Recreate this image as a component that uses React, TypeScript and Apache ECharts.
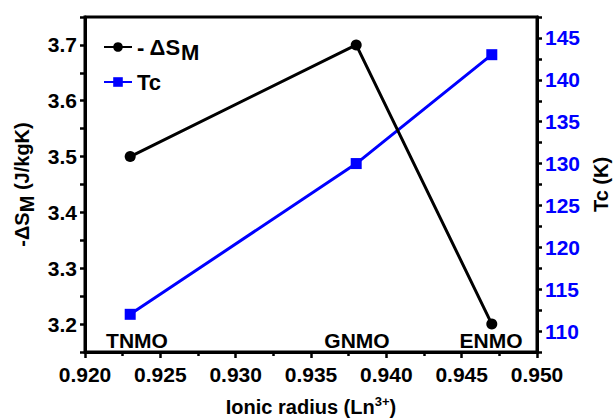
import React, { useEffect, useRef } from "react";
import * as echarts from "echarts";

const compounds = ["TNMO", "GNMO", "ENMO"];
const ionicRadius = [0.923, 0.938, 0.947];
const deltaSM = [3.5, 3.7, 3.2];
const tc = [112, 130, 143];
const labelX = [0.92345, 0.93805, 0.94695];
const labelY = 3.17;

const FONT = "Arial, 'Liberation Sans', sans-serif";

export default function App() {
  const ref = useRef<HTMLDivElement>(null);
  useEffect(() => {
    if (!ref.current) return;
    const chart = echarts.init(ref.current, undefined, { renderer: "svg" });
    const bold = { fontFamily: FONT, fontWeight: "bold" as const };
    chart.setOption({
      animation: false,
      backgroundColor: "#fff",
      grid: {
        left: 85,
        right: 76,
        top: 17,
        bottom: 68,
        show: true,
        borderColor: "#000",
        borderWidth: 3,
        containLabel: false,
        outerBoundsMode: "none",
      },
      legend: {
        orient: "vertical",
        left: 98,
        top: 31,
        itemGap: 8,
        itemWidth: 28,
        itemHeight: 12,
        data: ["- ΔSM", "Tc"],
        textStyle: {
          ...bold,
          fontSize: 22,
          color: "#000",
          rich: {
            main: { ...bold, fontSize: 22, color: "#000" },
            sub: { ...bold, fontSize: 22, color: "#000", padding: [10, 0, 0, 0] },
          },
        },
        formatter: (n: string) => (n === "- ΔSM" ? "{main|- ΔS}{sub|M}" : "{main|Tc}"),
      },
      xAxis: {
        type: "value",
        min: 0.92,
        max: 0.95,
        interval: 0.005,
        name: "Ionic radius (Ln{sup|3+})",
        nameLocation: "middle",
        nameGap: 43,
        nameTextStyle: {
          ...bold,
          fontSize: 20,
          color: "#000",
          rich: {
            sup: { ...bold, fontSize: 13, color: "#000", padding: [0, 0, 10, 0] },
          },
        },
        axisLine: { show: true, lineStyle: { color: "#000", width: 3 } },
        axisTick: { show: true, inside: false, length: 6, lineStyle: { color: "#000", width: 2.5 } },
        minorTick: { show: true, splitNumber: 2, length: 4, lineStyle: { color: "#000", width: 2.5 } },
        splitLine: { show: false },
        axisLabel: {
          ...bold,
          fontSize: 21,
          color: "#000",
          margin: 12,
          formatter: (v: number) => v.toFixed(3),
        },
      },
      yAxis: [
        {
          type: "value",
          min: 3.15,
          max: 3.75,
          interval: 0.05,
          position: "left",
          name: "-ΔS{sub|M} (J/kgK)",
          nameLocation: "middle",
          nameGap: 46,
          nameTextStyle: {
            ...bold,
            fontSize: 20,
            color: "#000",
            rich: {
              sub: { ...bold, fontSize: 20, color: "#000", padding: [10, 0, 0, 0] },
            },
          },
          axisLine: { show: true, lineStyle: { color: "#000", width: 3 } },
          axisTick: { show: true, length: 5, lineStyle: { color: "#000", width: 2.5 } },
          splitLine: { show: false },
          axisLabel: {
            ...bold,
            fontSize: 21,
            color: "#000",
            margin: 8,
            formatter: (v: number) => {
              const k = Math.round(v * 100);
              return k % 10 === 0 && k >= 320 && k <= 370 ? (k / 100).toFixed(1) : "";
            },
          },
        },
        {
          type: "value",
          min: 107.5,
          max: 147.5,
          interval: 2.5,
          position: "right",
          name: "Tc (K)",
          nameLocation: "middle",
          nameGap: 48,
          nameRotate: 90,
          nameTextStyle: { ...bold, fontSize: 20, color: "#000" },
          axisLine: { show: true, lineStyle: { color: "#000", width: 3 } },
          axisTick: { show: true, length: 5, lineStyle: { color: "#000", width: 2.5 } },
          splitLine: { show: false },
          axisLabel: {
            ...bold,
            fontSize: 21,
            color: "#0000ff",
            margin: 8,
            formatter: (v: number) => {
              const k = Math.round(v * 10);
              return k % 50 === 0 && k >= 1100 && k <= 1450 ? String(k / 10) : "";
            },
          },
        },
      ],
      series: [
        {
          name: "- ΔSM",
          type: "line",
          yAxisIndex: 0,
          data: ionicRadius.map((x, i) => [x, deltaSM[i]]),
          symbol: "circle",
          symbolSize: 11,
          itemStyle: { color: "#000" },
          lineStyle: { color: "#000", width: 3 },
          z: 3,
        },
        {
          name: "Tc",
          type: "line",
          yAxisIndex: 1,
          data: ionicRadius.map((x, i) => [x, tc[i]]),
          symbol: "rect",
          symbolSize: 11,
          itemStyle: { color: "#0000ff" },
          lineStyle: { color: "#0000ff", width: 3 },
          z: 2,
        },
        {
          name: "labels",
          type: "scatter",
          yAxisIndex: 0,
          symbolSize: 0,
          silent: true,
          itemStyle: { opacity: 1, color: "#000" },
          data: compounds.map((c, i) => [labelX[i], labelY, c]),
          label: {
            show: true,
            position: "inside",
            ...bold,
            fontSize: 21,
            color: "#000",
            opacity: 1,
            textBorderWidth: 0,
            formatter: (p: any) => p.data[2],
          },
        },
      ],
    });
    return () => chart.dispose();
  }, []);
  return <div ref={ref} style={{ width: 613, height: 420, position: "absolute", left: 0, top: 0 }} />;
}
